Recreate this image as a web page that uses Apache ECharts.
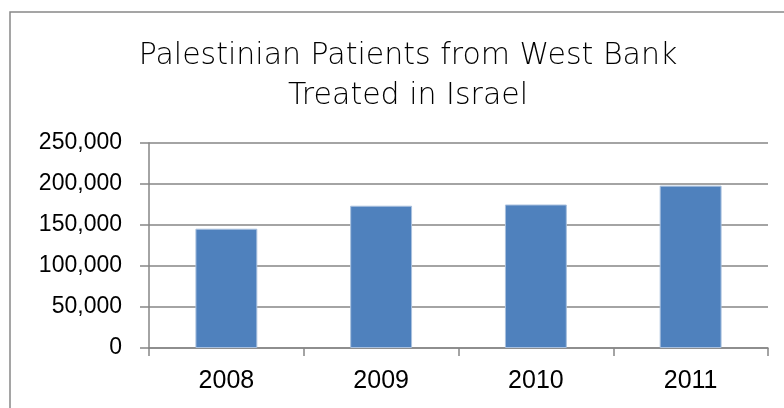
<!DOCTYPE html>
<html>
<head>
<meta charset="utf-8">
<script src="https://cdn.jsdelivr.net/npm/echarts@6/dist/echarts.min.js"></script>
<style>
  html, body { margin: 0; padding: 0; background: #fff; }
  #chart { width: 784px; height: 408px; }
</style>
</head>
<body>
<div id="chart"></div>
<script>
// chart data
const years = ['2008', '2009', '2010', '2011'];
const patients = [145500, 173500, 175000, 198000];
const yTicks = [0, 50000, 100000, 150000, 200000, 250000];

const myChart = echarts.init(document.getElementById('chart'));

const option = {
    animation: false,
    backgroundColor: '#fff',
    title: {
        text: 'Palestinian Patients from West Bank\nTreated in Israel',
        left: 403,
        top: 31,
        textAlign: 'center',
        textStyle: {
            fontFamily: 'DejaVu Sans',
            fontWeight: 200,
            fontSize: 30,
            lineHeight: 40,
            color: '#000'
        }
    },
    graphic: [{
        type: 'rect',
        shape: { x: 10, y: 12, width: 800, height: 420 },
        style: { fill: 'none', stroke: '#888', lineWidth: 1.5 },
        silent: true
    }],
    grid: {
        left: 149,
        right: 16,
        top: 143,
        bottom: 60
    },
    xAxis: {
        type: 'category',
        data: years,
        axisLine: { lineStyle: { color: '#868686', width: 1.5 } },
        axisTick: { show: true, length: 8, lineStyle: { color: '#868686', width: 1.5 } },
        axisLabel: {
            margin: 21,
            fontFamily: 'Liberation Sans',
            fontSize: 25,
            color: '#000'
        }
    },
    yAxis: {
        type: 'value',
        min: yTicks[0],
        max: yTicks[yTicks.length - 1],
        interval: 50000,
        axisLine: { show: true, lineStyle: { color: '#868686', width: 1.5 } },
        axisTick: { show: true, length: 9, lineStyle: { color: '#868686', width: 1.5 } },
        splitLine: { lineStyle: { color: '#868686', width: 1.5 } },
        axisLabel: {
            margin: 27,
            fontFamily: 'Liberation Sans',
            fontSize: 23,
            color: '#000',
            formatter: function (v) { return v.toLocaleString('en-US'); }
        }
    },
    series: [{
        type: 'bar',
        data: patients,
        barWidth: '40%',
        itemStyle: {
            color: '#4F81BD',
            borderColor: '#a9c0de',
            borderWidth: 1
        }
    }]
};

myChart.setOption(option);
</script>
</body>
</html>
